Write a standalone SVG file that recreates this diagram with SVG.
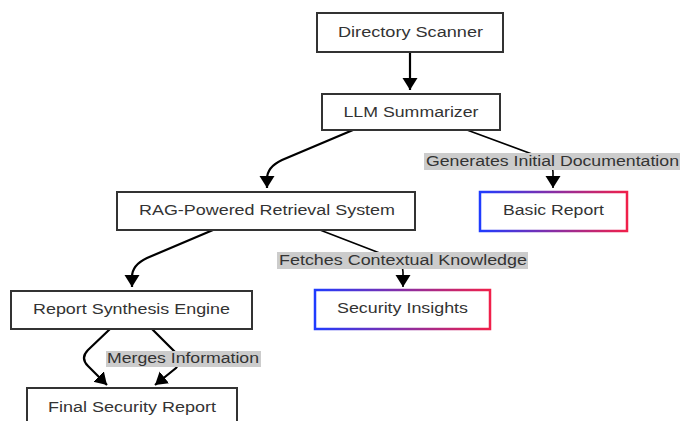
<svg xmlns="http://www.w3.org/2000/svg" width="680" height="421" viewBox="0 0 680 421">
<defs>
<style>
.box{fill:#fff;stroke:#333;stroke-width:2}
.gbox{fill:#fff;stroke:url(#grad);stroke-width:2.5}
.t{font-family:"Liberation Sans",Arial,sans-serif;font-size:14px;fill:#333;text-anchor:middle}
.e{fill:none;stroke:#000;stroke-width:2.2}
.e2{fill:none;stroke:#000;stroke-width:1.6}
.lbl{fill:#cccccc}
</style>
<linearGradient id="grad" x1="0" y1="0" x2="1" y2="0">
<stop offset="0" stop-color="#1f3cff"/>
<stop offset="1" stop-color="#f0204a"/>
</linearGradient>
<marker id="ah" markerUnits="userSpaceOnUse" markerWidth="16" markerHeight="16" refX="12" refY="7.5" orient="auto">
<path d="M0,0 L12,7.5 L0,15 z" fill="#000"/>
</marker>
</defs>
<g id="connectors">
<path class="e" d="M410,52 V90" marker-end="url(#ah)"/>
<path class="e" d="M353,130 L282,160 Q267,167 267,179 V188" marker-end="url(#ah)"/>
<path class="e2" d="M467,130 L540,157 Q553,162 553,172 V188" marker-end="url(#ah)"/>
<path class="e" d="M213,230 L147,258 Q132,265 132,277 V287" marker-end="url(#ah)"/>
<path class="e2" d="M320,230 L390,257 Q403,262 403,272 V287" marker-end="url(#ah)"/>
<path class="e" d="M110,329 L88,350 Q80,358 88,366 L107,385" marker-end="url(#ah)"/>
<path class="e" d="M152,329 L176,353 Q182,361 176,368 L155,385" marker-end="url(#ah)"/>
<rect class="lbl" x="424" y="153" width="258" height="17"/>
<text class="t" x="552.5" y="166" textLength="253" lengthAdjust="spacingAndGlyphs">Generates Initial Documentation</text>
<rect class="lbl" x="277" y="252" width="251" height="17"/>
<text class="t" x="403" y="265" textLength="248" lengthAdjust="spacingAndGlyphs">Fetches Contextual Knowledge</text>
<rect class="lbl" x="106" y="351" width="155" height="16"/>
<text class="t" x="183" y="363" textLength="152" lengthAdjust="spacingAndGlyphs">Merges Information</text>
</g>
<g id="directory-scanner">
<rect class="box" x="317" y="13" width="186" height="39"/>
<text class="t" x="410.5" y="37" textLength="145" lengthAdjust="spacingAndGlyphs">Directory Scanner</text>
</g>
<g id="llm-summarizer">
<rect class="box" x="322" y="94" width="178" height="36"/>
<text class="t" x="411" y="117" textLength="135" lengthAdjust="spacingAndGlyphs">LLM Summarizer</text>
</g>
<g id="rag-system">
<rect class="box" x="117" y="192" width="298" height="38"/>
<text class="t" x="267" y="215" textLength="256" lengthAdjust="spacingAndGlyphs">RAG-Powered Retrieval System</text>
</g>
<g id="basic-report">
<rect class="gbox" x="480" y="192" width="147" height="39"/>
<text class="t" x="553.5" y="215" textLength="101" lengthAdjust="spacingAndGlyphs">Basic Report</text>
</g>
<g id="report-synthesis">
<rect class="box" x="11" y="291" width="241" height="38"/>
<text class="t" x="131.5" y="314" textLength="197" lengthAdjust="spacingAndGlyphs">Report Synthesis Engine</text>
</g>
<g id="security-insights">
<rect class="gbox" x="315" y="290" width="175" height="39"/>
<text class="t" x="402.5" y="313" textLength="131" lengthAdjust="spacingAndGlyphs">Security Insights</text>
</g>
<g id="final-report">
<rect class="box" x="27" y="388" width="210" height="40"/>
<text class="t" x="132" y="412" textLength="168" lengthAdjust="spacingAndGlyphs">Final Security Report</text>
</g>
</svg>
